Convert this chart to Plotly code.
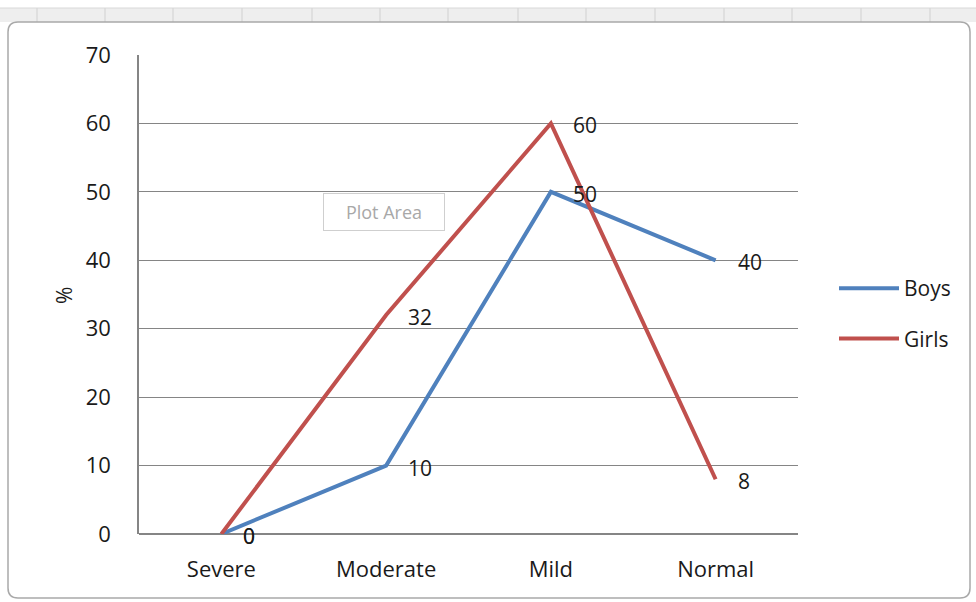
import plotly.graph_objects as go

categories = ["Severe", "Moderate", "Mild", "Normal"]
boys = [0, 10, 50, 40]
girls = [0, 32, 60, 8]
y_ticks = [0, 10, 20, 30, 40, 50, 60, 70]

W, H = 976, 602
L, R, T, B = 139, 178, 55, 68

FONT = "Open Sans"
GRID = "#858585"
TXT = "#1a1a1a"
FS = 22

fig = go.Figure()
for name, vals, color, grp in [("Boys", boys, "#4F81BD", "b"),
                               ("Girls", girls, "#C0504D", "g")]:
    fig.add_trace(go.Scatter(
        x=categories, y=vals, name=name, mode="lines",
        line=dict(color=color, width=4), legendgroup=grp, cliponaxis=False,
    ))

# px -> paper coordinate helpers
def px_x(x):
    return (x - L) / (W - L - R)

def px_y(y):
    return (H - B - y) / (H - T - B)

annotations = []
# value labels sit just right of each point
for vals in (boys, girls):
    for c, v in zip(categories, vals):
        annotations.append(dict(
            x=c, y=v, xref="x", yref="y", text=str(v), showarrow=False,
            xanchor="left", yanchor="middle", xshift=20, yshift=-2,
            font=dict(family=FONT, size=FS - 1, color=TXT)))

shapes = []
# spreadsheet strip above the chart frame
shapes.append(dict(type="rect", xref="paper", yref="paper",
                   x0=px_x(0), x1=px_x(W), y0=px_y(22), y1=px_y(8),
                   fillcolor="#eeeeee", line=dict(width=0), layer="below"))
for cx in [37, 105, 173, 242, 312, 380, 448, 518, 586, 655, 724, 792, 861, 930]:
    shapes.append(dict(type="line", xref="paper", yref="paper",
                       x0=px_x(cx), x1=px_x(cx), y0=px_y(22), y1=px_y(8),
                       line=dict(color="#d0d0d0", width=1), layer="below"))
shapes.append(dict(type="line", xref="paper", yref="paper",
                   x0=px_x(0), x1=px_x(W), y0=px_y(8), y1=px_y(8),
                   line=dict(color="#d8d8d8", width=1), layer="below"))

# rounded chart frame
x0, x1, y0, y1, r = 8, 970, 22, 598, 10
path = (f"M {px_x(x0 + r)},{px_y(y0)} L {px_x(x1 - r)},{px_y(y0)} "
        f"Q {px_x(x1)},{px_y(y0)} {px_x(x1)},{px_y(y0 + r)} "
        f"L {px_x(x1)},{px_y(y1 - r)} Q {px_x(x1)},{px_y(y1)} {px_x(x1 - r)},{px_y(y1)} "
        f"L {px_x(x0 + r)},{px_y(y1)} Q {px_x(x0)},{px_y(y1)} {px_x(x0)},{px_y(y1 - r)} "
        f"L {px_x(x0)},{px_y(y0 + r)} Q {px_x(x0)},{px_y(y0)} {px_x(x0 + r)},{px_y(y0)} Z")
shapes.append(dict(type="path", xref="paper", yref="paper", path=path,
                   fillcolor="white", line=dict(color="#a9a9a9", width=1.5),
                   layer="below"))

annotations += [
    dict(text="%", xref="paper", yref="paper", x=px_x(64), y=px_y(296),
         xanchor="center", yanchor="middle",
         showarrow=False, textangle=-90,
         font=dict(family=FONT, size=FS - 1, color=TXT)),
    dict(text="Plot Area", xref="paper", yref="paper",
         x=px_x(384), y=px_y(212), xanchor="center", yanchor="middle",
         showarrow=False,
         font=dict(family=FONT, size=18, color="#a8a8a8"),
         bordercolor="#cfcfcf", borderwidth=1, borderpad=6, bgcolor="white",
         width=108),
]

fig.update_layout(
    width=W, height=H,
    margin=dict(l=L, r=R, t=T, b=B, pad=0),
    paper_bgcolor="white", plot_bgcolor="rgba(0,0,0,0)",
    font=dict(family=FONT, size=FS, color=TXT),
    shapes=shapes, annotations=annotations,
    showlegend=True,
    legend=dict(x=px_x(834), y=px_y(268), xanchor="left", yanchor="top",
                bgcolor="rgba(0,0,0,0)", tracegroupgap=20,
                font=dict(family=FONT, size=FS - 1, color=TXT),
                itemwidth=60),
    xaxis=dict(range=[-0.5, 3.5], showgrid=False, zeroline=False,
               showline=False, ticks="", tickfont=dict(size=FS),
               ticklabelstandoff=20, fixedrange=True),
    yaxis=dict(range=[0, 70], tickvals=y_ticks, showgrid=True,
               gridcolor=GRID, gridwidth=1.4, zeroline=True,
               zerolinecolor=GRID, zerolinewidth=1.6,
               showline=True, linecolor=GRID, linewidth=1.6,
               ticks="", ticklabelstandoff=22, tickfont=dict(size=FS),
               fixedrange=True),
)

fig.write_html("out.html")
